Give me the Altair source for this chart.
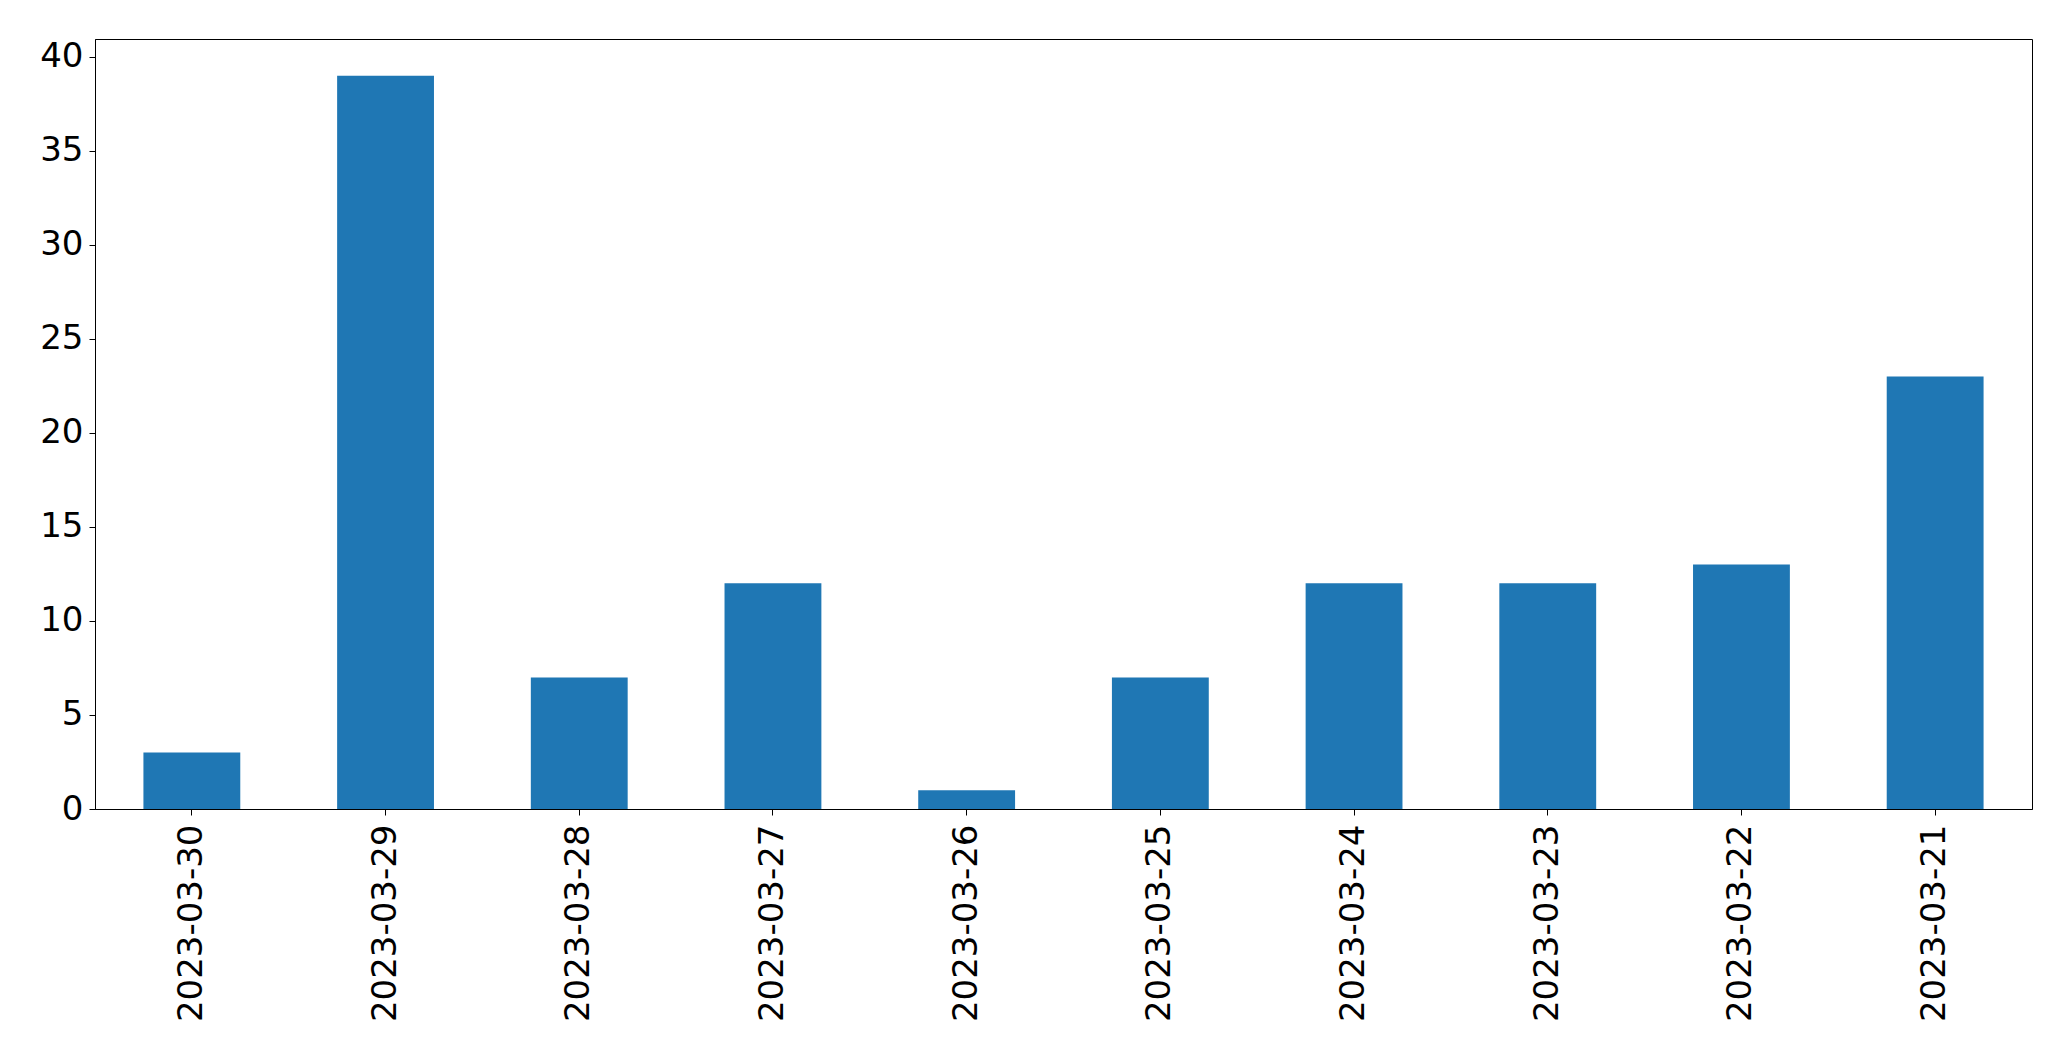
import altair as alt
import pandas as pd

dates = ["2023-03-30", "2023-03-29", "2023-03-28", "2023-03-27", "2023-03-26",
         "2023-03-25", "2023-03-24", "2023-03-23", "2023-03-22", "2023-03-21"]
counts = [3, 39, 7, 12, 1, 7, 12, 12, 13, 23]
y_ticks = [0, 5, 10, 15, 20, 25, 30, 35, 40]

df = pd.DataFrame({"date": dates, "count": counts})

FONT = "DejaVu Sans"

chart = alt.Chart(df).mark_bar(color="#1f77b4").encode(
    x=alt.X("date:N", sort=dates, title=None,
            scale=alt.Scale(paddingInner=0.5, paddingOuter=0.25),
            axis=alt.Axis(labelAngle=-90, labelFontSize=34, labelFont=FONT,
                          labelColor="black", tickColor="black", tickSize=6,
                          tickWidth=1, domainColor="black", domainWidth=1,
                          labelPadding=9, labelLimit=0, grid=False)),
    y=alt.Y("count:Q", title=None,
            scale=alt.Scale(domain=[0, 40.95], nice=False, zero=True),
            axis=alt.Axis(values=y_ticks, labelFontSize=34, labelFont=FONT,
                          labelColor="black", tickColor="black", tickSize=6,
                          tickWidth=1, domainColor="black", domainWidth=1,
                          labelPadding=6, grid=False)),
).properties(
    width=1937, height=770,
    autosize=alt.AutoSizeParams(type="none"),
    padding={"left": 87, "top": 31, "right": 20, "bottom": 230},
    background="white",
).configure_view(
    stroke="black", strokeWidth=1
)

chart.save("out.html", embed_options={"renderer": "svg", "actions": False})
